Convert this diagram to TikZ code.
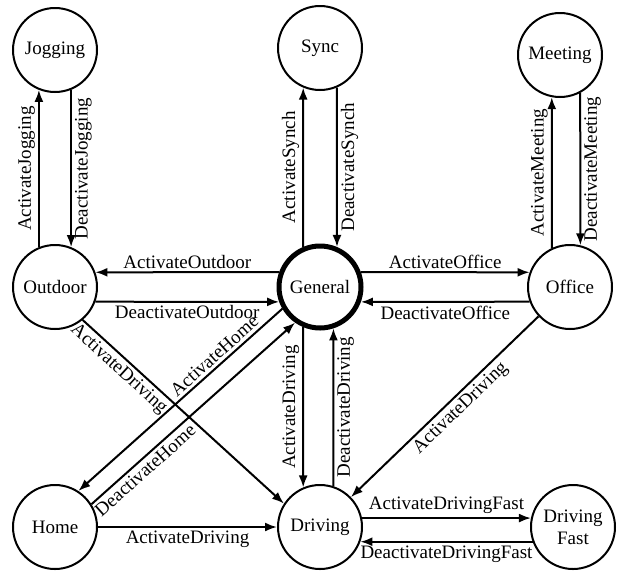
\documentclass[tikz,border=0pt]{standalone}
\usepackage{fontspec}
\setmainfont{Liberation Serif}
\usetikzlibrary{arrows.meta}

\begin{document}
\begin{tikzpicture}[x=1pt, y=-1pt, line width=2pt,
  state/.style={draw, circle, minimum size=84pt, inner sep=0pt, line width=2pt,
    align=center, font=\fontsize{19}{22}\selectfont},
  trans/.style={-{Latex[length=12pt,width=9pt]}, line width=2pt},
  lbl/.style={inner sep=3pt, font=\fontsize{19}{22}\selectfont},
  lblL/.style={lbl, rotate=90, anchor=south},
  lblR/.style={lbl, rotate=90, anchor=north}]

  %% ════ 状态节点 ════
  \node[state] (Jogging) at (55,50) {Jogging};
  \node[state] (Sync) at (320,48) {Sync};
  \node[state] (Meeting) at (560,55) {Meeting};
  \node[state] (Outdoor) at (55,287) {Outdoor};
  \node[state, line width=5pt, minimum size=82pt] (General) at (320,287) {General};
  \node[state] (Office) at (570,287) {Office};
  \node[state] (Home) at (55,527) {Home};
  \node[state] (Driving) at (320,527) {Driving};
  \node[state] (DrivingFast) at (573,527) {Driving\\Fast};

  %% ════ 竖直往返 ════
  \draw[trans] (Outdoor.112) -- node[lblL] {ActivateJogging} (Jogging.248);
  \draw[trans] (Jogging.292) -- node[lblR] {DeactivateJogging} (Outdoor.68);
  \draw[trans] (General.113) -- node[lblL] {ActivateSynch} (Sync.247);
  \draw[trans] (Sync.293) -- node[lblR] {DeactivateSynch} (General.67);
  \draw[trans] (Office.115) -- node[lblL] {ActivateMeeting} (Meeting.259);
  \draw[trans] (Meeting.298) -- node[lblR] {DeactivateMeeting} (Office.76);
  \draw[trans] (General.247) -- node[lblL] {ActivateDriving} (Driving.113);
  \draw[trans] (Driving.72) -- node[lblR] {DeactivateDriving} (General.288);

  %% ════ 水平往返 ════
  \draw[trans] (General.160) -- node[lbl, above] {ActivateOutdoor} (Outdoor.20);
  \draw[trans] (Outdoor.340) -- node[lbl, below] {DeactivateOutdoor} (General.200);
  \draw[trans] (General.20) -- node[lbl, above] {ActivateOffice} (Office.160);
  \draw[trans] (Office.200) -- node[lbl, below] {DeactivateOffice} (General.340);
  \draw[trans] (Driving.12) -- node[lbl, above] {ActivateDrivingFast} (DrivingFast.168);
  \draw[trans] (DrivingFast.200) -- node[lbl, below] {DeactivateDrivingFast} (Driving.340);
  \draw[trans] (Home) -- node[lbl, below] {ActivateDriving} (Driving);

  %% ════ 斜线 ════
  \draw[trans] (Outdoor.310) -- node[lbl, sloped, below, pos=0.22] {ActivateDriving} (Driving.147);
  \draw[trans] (General.210) -- node[lbl, sloped, above, pos=0.3] {ActivateHome} (Home.57);
  \draw[trans] (Home.32) -- node[lbl, sloped, below, pos=0.23] {DeactivateHome} (General.235);
  \draw[trans] (Office.223) -- node[lbl, sloped, below, pos=0.46] {ActivateDriving} (Driving.44);

  % 钉死画布
  \pgfresetboundingbox
  \path[use as bounding box] (0,0) rectangle (623,574);
\end{tikzpicture}
\end{document}
